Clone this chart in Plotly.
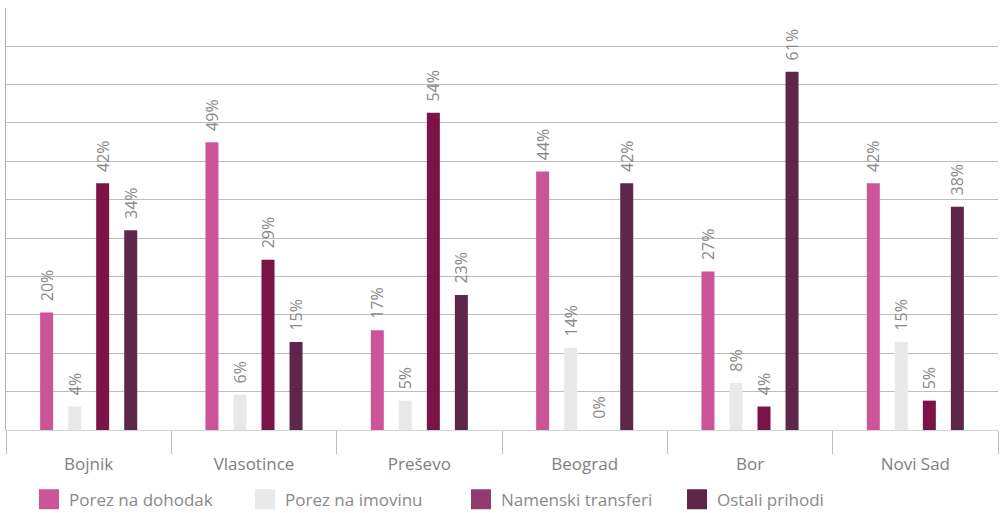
import plotly.graph_objects as go

categories = ["Bojnik", "Vlasotince", "Preševo", "Beograd", "Bor", "Novi Sad"]
series_names = ["Porez na dohodak", "Porez na imovinu", "Namenski transferi", "Ostali prihodi"]
porez_na_dohodak = [20, 49, 17, 44, 27, 42]
porez_na_imovinu = [4, 6, 5, 14, 8, 15]
namenski_transferi = [42, 29, 54, 0, 4, 5]
ostali_prihodi = [34, 15, 23, 42, 61, 38]

bar_colors = ["#CC5499", "#E8E9E8", "#7A1446", "#5E2649"]
legend_colors = ["#CC5499", "#E8E9E8", "#913B6E", "#5E2649"]
values = [porez_na_dohodak, porez_na_imovinu, namenski_transferi, ostali_prihodi]

FONT = "Open Sans"
TXT = "#8a8a8a"

fig = go.Figure()
for name, vals, col in zip(series_names, values, bar_colors):
    fig.add_trace(go.Bar(
        x=categories, y=vals, name=name, marker_color=col, marker_line_width=0,
        texttemplate="\u00a0\u00a0%{y}%", textposition="outside", textangle=-90,
        constraintext="none", cliponaxis=False,
        textfont=dict(family=FONT, size=16, color=TXT),
        showlegend=False,
    ))

for name, col in zip(series_names, legend_colors):
    fig.add_trace(go.Scatter(
        x=[None], y=[None], name=name, mode="markers",
        marker=dict(symbol="square", size=16, color=col, line=dict(color=col, width=4)),
    ))

fig.update_layout(
    width=1004, height=513,
    margin=dict(l=6, r=6, t=8, b=83, autoexpand=False),
    paper_bgcolor="white", plot_bgcolor="white",
    barmode="group", bargap=0.322, bargroupgap=0.536,
    font=dict(family=FONT, size=17, color=TXT),
    legend=dict(
        orientation="h", x=0.0232, xanchor="left", y=-0.165, yanchor="middle",
        entrywidth=171, entrywidthmode="pixels",
        font=dict(family=FONT, size=17, color=TXT),
        bgcolor="rgba(0,0,0,0)",
    ),
    xaxis=dict(
        type="category", showline=True, linecolor="#d3d3d3", linewidth=1,
        ticks="outside", tickson="boundaries", ticklen=23, tickcolor="#bdbdbd", tickwidth=1,
        ticklabelstandoff=19,
        tickfont=dict(family=FONT, size=17, color="#808080"), showgrid=False,
    ),
    yaxis=dict(
        range=[0, 71.85], tick0=0, dtick=6.534, showticklabels=False,
        showgrid=True, gridcolor="#bdbdbd", gridwidth=1,
        showline=True, linecolor="#b0b0b0", linewidth=1, zeroline=False,
    ),
)

fig.write_html("out.html")
